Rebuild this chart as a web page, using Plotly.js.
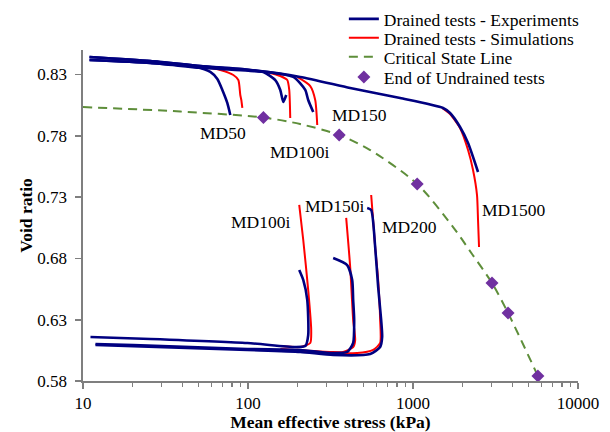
<!DOCTYPE html>
<html><head><meta charset="utf-8">
<script src="https://cdn.plot.ly/plotly-3.0.1.min.js"></script>
<style>html,body{margin:0;padding:0;background:#fff}#chart{width:610px;height:432px}</style>
</head><body><div id="chart"></div>
<script>
// ---- Experiments (drained tests) : mean effective stress p (kPa), void ratio e ----
const expMD1500P = [10.95, 25.6, 51.4, 103, 207, 416, 836, 1521, 1677, 1928, 2156, 2478];
const expMD1500E = [0.8443, 0.8410, 0.8369, 0.8337, 0.8280, 0.8190, 0.8108, 0.8027, 0.7986, 0.7872, 0.7741, 0.7505];
const expMD50P = [10.95, 25.6, 48, 59.1, 65.2, 69.9, 74.9, 78.1];
const expMD50E = [0.8418, 0.8394, 0.8361, 0.8321, 0.8263, 0.8174, 0.8068, 0.7970];
const expMD100P = [10.95, 25.6, 51.4, 103.3, 123.8, 146.3, 156.9, 163.6, 170.5];
const expMD100E = [0.8418, 0.8394, 0.8355, 0.8329, 0.8321, 0.8255, 0.8174, 0.8076, 0.8133];
const expMD150P = [10.95, 25.6, 51.4, 103, 188, 222.3, 231.7, 248.5];
const expMD150E = [0.8443, 0.8410, 0.8369, 0.8337, 0.8280, 0.8174, 0.8092, 0.7994];
const expMD100iP = [11.1, 25.6, 99, 193.3, 222.3, 231.7, 228.6, 216.2, 204.4];
const expMD100iE = [0.6159, 0.6143, 0.6110, 0.6077, 0.6085, 0.6175, 0.6461, 0.6624, 0.6705];
const expMD150iP = [11.9, 20.2, 99, 207.3, 328.3, 399.1, 433.9, 440, 433.9, 428, 399.1, 328.3];
const expMD150iE = [0.6102, 0.6094, 0.6061, 0.6053, 0.6028, 0.6037, 0.6110, 0.6298, 0.6461, 0.6624, 0.6746, 0.6803];
const expMD200P = [11.9, 99, 207.3, 328.3, 550, 632.3, 650.2, 641.2, 614.9, 589.8, 557.9, 527.7];
const expMD200E = [0.6094, 0.6053, 0.6037, 0.6012, 0.6020, 0.6077, 0.6159, 0.6298, 0.6567, 0.6893, 0.7195, 0.7211];

// ---- Simulations ----
const simMD50P = [51.4, 68, 81.5, 87.4, 89.8, 91.1, 92.4];
const simMD50E = [0.8369, 0.8337, 0.8296, 0.8255, 0.8133, 0.8092, 0.8027];
const simMD100P = [130.9, 156.9, 173, 177.8, 180.3];
const simMD100E = [0.8321, 0.8288, 0.8255, 0.8174, 0.7945];
const simMD150P = [198.8, 238.4, 255.5, 262.8];
const simMD150E = [0.8280, 0.8206, 0.8092, 0.7888];
const simMD1500P = [1500, 1677, 1928, 2156, 2311, 2443, 2478, 2513];
const simMD1500E = [0.8027, 0.7978, 0.7864, 0.7684, 0.7521, 0.7317, 0.7113, 0.6893];
const simMD100iP = [156.9, 207.3, 238.4, 241.6, 231.7, 216.2, 204.4];
const simMD100iE = [0.6085, 0.6077, 0.6110, 0.6216, 0.6542, 0.6950, 0.7236];
const simMD150iP = [156.9, 314.8, 377.5, 433.9, 446.2, 433.9, 416.2, 393.6];
const simMD150iE = [0.6061, 0.6037, 0.6037, 0.6077, 0.6134, 0.6298, 0.6730, 0.7130];
const simMD200P = [156.9, 458.8, 573.6, 632.3, 632.3, 614.9, 589.8, 557.9];
const simMD200E = [0.6053, 0.6028, 0.6053, 0.6110, 0.6298, 0.6624, 0.6893, 0.7317];

// ---- Critical State Line ----
const cslP = [10, 38.9, 124, 207, 357, 550, 1060, 1750, 2279, 3013, 3767, 5715];
const cslE = [0.8035, 0.7998, 0.7949, 0.7896, 0.7807, 0.7684, 0.7407, 0.7056, 0.6836, 0.6599, 0.6355, 0.5841];

// ---- End of undrained tests ----
const endP = [124, 357, 1060, 3013, 3767, 5715];
const endE = [0.7949, 0.7807, 0.7407, 0.6599, 0.6355, 0.5841];

// ---- Labels ----
const labelText = ['MD50', 'MD100i', 'MD150', 'MD100i', 'MD150i', 'MD200', 'MD1500'];
const labelP = [70.9, 204.4, 472, 118.7, 333, 947, 4093];
const labelE = [0.7823, 0.7668, 0.7970, 0.7097, 0.7227, 0.7056, 0.7195];

const xTickVals = [10, 100, 1000, 10000];
const yTickVals = [0.58, 0.63, 0.68, 0.73, 0.78, 0.83];

function join(list) {
  const xs = [], ys = [];
  list.forEach(function (s, i) {
    if (i > 0) { xs.push(null); ys.push(null); }
    xs.push.apply(xs, s[0]); ys.push.apply(ys, s[1]);
  });
  return [xs, ys];
}

// minor ticks 2..9 in each decade
const xMinor = [];
for (let d = 10; d < 10000; d *= 10) for (let k = 2; k <= 9; k++) xMinor.push(d * k);

const FONT = 'Liberation Serif, Times New Roman, serif';
const AXC = '#7f7f7f';
const exp = join([[expMD1500P, expMD1500E], [expMD50P, expMD50E], [expMD100P, expMD100E], [expMD150P, expMD150E],
                  [expMD100iP, expMD100iE], [expMD150iP, expMD150iE], [expMD200P, expMD200E]]);
const sim = join([[simMD50P, simMD50E], [simMD100P, simMD100E], [simMD150P, simMD150E], [simMD1500P, simMD1500E],
                  [simMD100iP, simMD100iE], [simMD150iP, simMD150iE], [simMD200P, simMD200E]]);

const traces = [
  {x: sim[0], y: sim[1], mode: 'lines', name: 'Drained tests - Simulations', legend: 'legend2',
   connectgaps: false, line: {color: '#ff0000', width: 2, shape: 'spline', smoothing: 0.6}},
  {x: exp[0], y: exp[1], mode: 'lines', name: 'Drained tests - Experiments', legend: 'legend',
   connectgaps: false, line: {color: '#000080', width: 2.6, shape: 'spline', smoothing: 0.6}},
  {x: cslP, y: cslE, mode: 'lines', name: 'Critical State Line', legend: 'legend3',
   line: {color: '#5e8e3a', width: 2, dash: '9px,6px', shape: 'spline', smoothing: 0.8}},
  {x: endP, y: endE, mode: 'markers', name: 'End of Undrained tests', legend: 'legend4',
   marker: {symbol: 'diamond', size: 10, color: '#7030a0'}},
  // carrier for the minor-tick axis (invisible)
  {x: endP, y: endE, xaxis: 'x2', yaxis: 'y', mode: 'markers', showlegend: false, hoverinfo: 'skip',
   marker: {size: 1, opacity: 0}}
];

const legBase = {x: 0.527, xanchor: 'left', yanchor: 'middle', bgcolor: 'rgba(0,0,0,0)', borderwidth: 0,
                 font: {family: FONT, size: 17.5, color: '#000'}};
const layout = {
  width: 610, height: 432,
  margin: {l: 83, r: 32, t: 50, b: 51, autoexpand: false},
  paper_bgcolor: '#fff', plot_bgcolor: '#fff',
  font: {family: FONT, size: 17, color: '#000'},
  showlegend: true,
  legend: Object.assign({}, legBase, {y: 1.0937}),
  legend2: Object.assign({}, legBase, {y: 1.0363}),
  legend3: Object.assign({}, legBase, {y: 0.9789}),
  legend4: Object.assign({}, legBase, {y: 0.9184}),
  xaxis: {
    type: 'log', range: [1, 4], tickvals: xTickVals, ticktext: xTickVals.map(String),
    showgrid: false, zeroline: false, showline: true, linecolor: AXC, linewidth: 1.6,
    ticks: 'outside', ticklen: 6, tickwidth: 1.6, tickcolor: AXC,
    tickfont: {family: FONT, size: 17}, ticklabelstandoff: 0,
    title: {text: '<b>Mean effective stress (kPa)</b>', font: {family: FONT, size: 17.5}, standoff: 9}
  },
  xaxis2: {
    type: 'log', range: [1, 4], overlaying: 'x', anchor: 'y', side: 'bottom',
    tickvals: xMinor, showticklabels: false, ticks: 'outside', ticklen: 5, tickwidth: 1.4, tickcolor: AXC,
    showgrid: false, zeroline: false, showline: false
  },
  yaxis: {
    range: [0.58, 0.85], tickvals: yTickVals, ticktext: yTickVals.map(v => v.toFixed(2)),
    showgrid: false, zeroline: false, showline: true, linecolor: AXC, linewidth: 1.6,
    ticks: 'outside', ticklen: 6, tickwidth: 1.6, tickcolor: AXC,
    tickfont: {family: FONT, size: 17}, ticklabelstandoff: 5,
    title: {text: '<b>Void ratio</b>', font: {family: FONT, size: 17.5}, standoff: 0}
  },
  annotations: labelText.map(function (t, i) {
    return {x: Math.log10(labelP[i]), y: labelE[i], xref: 'x', yref: 'y', text: t, showarrow: false,
            font: {family: FONT, size: 17.5, color: '#000'}};
  })
};

Plotly.newPlot('chart', traces, layout, {displayModeBar: false, staticPlot: true});
</script></body></html>
